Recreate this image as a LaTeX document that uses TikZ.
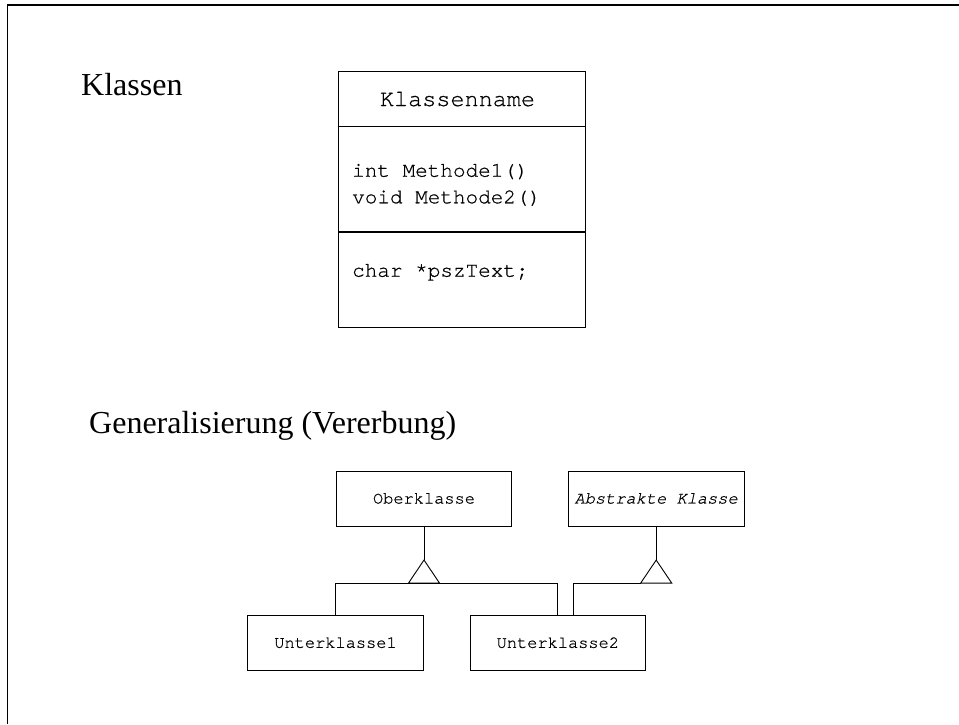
\documentclass[tikz,border=0pt]{standalone}
\usepackage{fontspec}
\setmainfont{Liberation Serif}
\setmonofont{texgyrecursor}[Extension=.otf, UprightFont=*-regular, ItalicFont=*-italic,
  UprightFeatures={FakeBold=0.6}, ItalicFeatures={FakeBold=0.6}]
\usetikzlibrary{calc}

\tikzset{
  cls/.style={draw, line width=0.9pt, minimum width=175.5pt, minimum height=55pt, inner sep=0pt, font=\fontsize{17}{20}\ttfamily},
  part/.style={draw, line width=0.9pt, minimum width=247.7pt, inner sep=0pt},
  code/.style={anchor=base west, inner sep=0pt, font=\fontsize{21}{26}\ttfamily},
  heading/.style={anchor=base west, inner sep=0pt, font=\fontsize{32}{38}\selectfont},
  link/.style={line width=0.9pt},
}

\begin{document}
\begin{tikzpicture}[x=1pt, y=-1pt]
  \useasboundingbox (0,0) rectangle (959,724);
  % Draw the frame
  \draw[line width=1.3pt] (7.8,724) -- (7.8,5) -- (959,5);

  % Draw the class box
  \node[heading] (klassen) at (81,95) {Klassen};
  \node[part, minimum height=55pt] (kname) at (461.85,98.5) {};
  \node[part, minimum height=104.7pt, anchor=north] (kmeth) at (kname.south) {};
  \node[part, minimum height=95.3pt, anchor=north] (kattr) at (kmeth.south) {};
  \node[inner sep=0pt, anchor=base, font=\fontsize{23.5}{26}\ttfamily] (ktitle) at (457.5,106) {Klassenname};
  \node[code] (meth1) at (352,176.7) {int Methode1()};
  \node[code] (meth2) at (352,203.3) {void Methode2()};
  \node[code] (attr1) at (352,276.7) {char *pszText;};

  % Draw the generalisation
  \node[heading] (general) at (89,433.3) {Generalisierung (Vererbung)};
  \node[cls] (ober) at (424,498.5) {Oberklasse};
  \node[cls] (abstr) at (656.2,498.5) {\itshape Abstrakte Klasse};
  \node[cls] (unter1) at (335.5,642.7) {Unterklasse1};
  \node[cls] (unter2) at (557.85,642.7) {Unterklasse2};

  % Add the inheritance triangles
  \coordinate (t1) at ($(ober.south)+(0,33.6)$);
  \coordinate (b1) at ($(t1)+(0,23)$);
  \draw[link] (ober) -- (t1);
  \draw[link] (t1) -- ++(-15.5,23) -- ++(31,0) -- cycle;
  \draw[link] (unter1.north) |- (b1) -| (unter2.north);

  \coordinate (t2) at ($(abstr.south)+(0,33.6)$);
  \coordinate (b2) at ($(t2)+(-15.5,23)$);
  \coordinate (u2r) at ($(unter2.north)+(16,0)$);
  \draw[link] (abstr) -- (t2);
  \draw[link] (t2) -- ++(-15.5,23) -- ++(31,0) -- cycle;
  \draw[link] (u2r) |- (b2);
\end{tikzpicture}
\end{document}
